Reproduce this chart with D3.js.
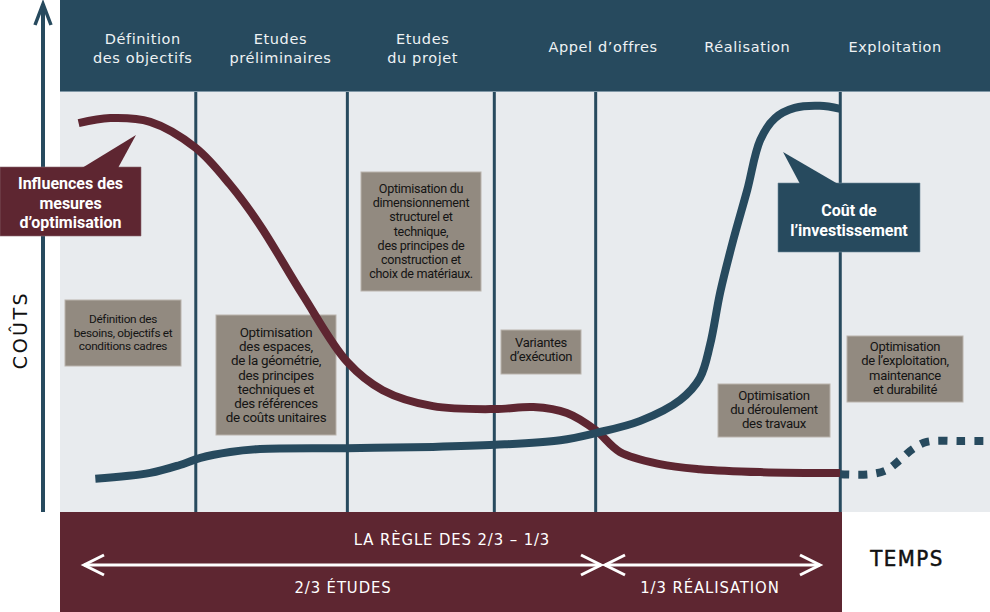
<!DOCTYPE html>
<html><head><meta charset="utf-8">
<script src="https://cdn.jsdelivr.net/npm/d3@7"></script>
<style>html,body{margin:0;padding:0;background:#fff;}svg{display:block;}</style>
</head><body>
<svg id="c" width="990" height="612"></svg>
<script>
// ---------- DATA ----------
// time axis 0..100, cost/influence axis 0..100
const phases = ["Définition\ndes objectifs","Etudes\npréliminaires","Etudes\ndu projet","Appel d’offres","Réalisation","Exploitation"];
const phaseLabelT = [8.9, 23.7, 39.0, 58.4, 73.9, 89.8];
const phaseBounds = [14.6, 30.9, 46.7, 57.6, 83.9];

const influenceT = [2.0,5.4,9.7,14.6,18.3,21.5,26.1,30.9,34.7,40.1,46.8,50.9,54.5,57.6,60.2,64.5,68.8,75.3,83.9];
const influenceV = [92.6,93.8,92.9,86.7,77.9,68.3,51.7,35.7,29.0,25.2,24.5,25.0,23.6,19.5,14.3,11.4,10.2,9.5,9.3];

const costT = [3.8,9.7,12.9,15.1,18.3,21.5,30.9,40.1,46.8,53.8,57.6,62.4,66.7,68.8,69.9,71.0,72.4,73.9,75.3,76.9,79.0,81.7,83.9];
const costV = [7.9,9.3,11.2,12.9,14.3,15.0,15.2,15.5,16.0,17.1,18.8,21.7,26.7,31.9,39.8,52.4,64.8,76.7,88.6,93.8,96.2,96.7,96.0];

const opT = [83.9,87.1,88.9,90.3,91.7,93.2,96.8,100];
const opV = [9.0,9.0,10.0,12.4,15.0,16.7,16.9,16.9];

const notes = [
  {lines:["Définition des","besoins, objectifs et","conditions cadres"], size:11.8},
  {lines:["Optimisation","des espaces,","de la géométrie,","des principes","techniques et","des références","de coûts unitaires"], size:13.4},
  {lines:["Optimisation du","dimensionnement","structurel et","technique,","des principes de","construction et","choix de matériaux."], size:12.6},
  {lines:["Variantes","d’exécution"], size:13},
  {lines:["Optimisation","du déroulement","des travaux"], size:13.2},
  {lines:["Optimisation","de l’exploitation,","maintenance","et durabilité"], size:13}
];
const calloutInfluence = ["Influences des","mesures","d’optimisation"];
const calloutCost = ["Coût de","l’investissement"];
const ruleTitle = "LA RÈGLE DES 2/3 – 1/3";
const ruleParts = ["2/3 ÉTUDES","1/3 RÉALISATION"];
const yTitle = "COÛTS", xTitle = "TEMPS";

// ---------- LAYOUT ----------
const BLUE="#274a5e", MAROON="#5e2631", GREY="#928a80";
const svg = d3.select("#c");
const x = d3.scaleLinear().domain([0,100]).range([60,990]);
const y = d3.scaleLinear().domain([0,100]).range([512,92]);

// header + plot background
svg.append("rect").attr("x",60).attr("y",0).attr("width",930).attr("height",91).attr("fill",BLUE);
svg.append("rect").attr("x",60).attr("y",91).attr("width",930).attr("height",421).attr("fill","#e8ebee");
svg.append("line").attr("x1",60).attr("x2",990).attr("y1",91.5).attr("y2",91.5).attr("stroke","#7f97a6").attr("stroke-width",1);

// header labels
phases.forEach((p,i)=>{
  const ls = p.split("\n");
  const t = svg.append("text").attr("text-anchor","middle").attr("fill","#eef2f4")
    .attr("font-family","DejaVu Sans, sans-serif").attr("font-size",14.5).attr("letter-spacing",0.6);
  const y0 = ls.length===2 ? 44 : 52;
  ls.forEach((l,j)=>t.append("tspan").attr("x",x(phaseLabelT[i])).attr("y",y0+j*19).text(l));
});

// phase separators
svg.selectAll(".sep").data(phaseBounds).join("line")
  .attr("x1",d=>x(d)).attr("x2",d=>x(d)).attr("y1",92).attr("y2",512)
  .attr("stroke",BLUE).attr("stroke-width",3);

// y axis arrow
svg.append("line").attr("x1",43).attr("x2",43).attr("y1",512).attr("y2",4).attr("stroke",BLUE).attr("stroke-width",4);
svg.append("path").attr("d","M35,25 L43,4 L51,25").attr("fill","none").attr("stroke",BLUE).attr("stroke-width",3.5);
svg.append("text").attr("transform","translate(27,330) rotate(-90)").attr("text-anchor","middle")
  .attr("font-family","DejaVu Sans, sans-serif").attr("font-size",19).attr("letter-spacing",2.5).attr("fill","#111").text(yTitle);

// grey note boxes
const noteBoxes = [[65,300,116,66],[216,315,120,120],[361,172,120,119],[501,330,80,44],[718,384,112,53],[847,336,116,66]];
const noteFirst = [323,337,193,347,400,351];
const noteStep = [13.6,14.2,14.2,14.4,14.2,14.4];
notes.forEach((n,i)=>{
  const [bx,by,bw,bh]=noteBoxes[i];
  svg.append("rect").attr("x",bx).attr("y",by).attr("width",bw).attr("height",bh)
    .attr("fill",GREY).attr("stroke","#b9b3ac").attr("stroke-width",1);
  const t = svg.append("text").attr("text-anchor","middle").attr("fill","#141414")
    .attr("font-family","Roboto, sans-serif").attr("font-size",n.size).attr("letter-spacing",-0.3);
  n.lines.forEach((l,j)=>t.append("tspan").attr("x",bx+bw/2).attr("y",noteFirst[i]+j*noteStep[i]).text(l));
});

// curves
const line = d3.line().x(d=>x(d[0])).y(d=>y(d[1])).curve(d3.curveCatmullRom.alpha(0.5));
svg.append("path").attr("d",line(influenceT.map((t,i)=>[t,influenceV[i]])))
  .attr("fill","none").attr("stroke",MAROON).attr("stroke-width",8).attr("stroke-linecap","butt");
svg.append("path").attr("d",line(costT.map((t,i)=>[t,costV[i]])))
  .attr("fill","none").attr("stroke",BLUE).attr("stroke-width",8).attr("stroke-linecap","butt");
svg.append("path").attr("d",line(opT.map((t,i)=>[t,opV[i]])))
  .attr("fill","none").attr("stroke",BLUE).attr("stroke-width",8).attr("stroke-dasharray","9 9");

// callouts
svg.append("path").attr("d","M0,167 L141,167 L141,236 L0,236 Z").attr("fill",MAROON).attr("stroke","#8a6a70").attr("stroke-width",0.6);
svg.append("path").attr("d","M82,168 L136,135 L118,168 Z").attr("fill",MAROON);
const ti = svg.append("text").attr("text-anchor","middle").attr("fill","#fff")
  .attr("font-family","Roboto, sans-serif").attr("font-weight",700).attr("font-size",16);
calloutInfluence.forEach((l,j)=>ti.append("tspan").attr("x",70.5).attr("y",189+j*19.5).text(l));

svg.append("path").attr("d","M778,183 L920,183 L920,252 L778,252 Z").attr("fill",BLUE).attr("stroke","#6f8b9b").attr("stroke-width",0.6);
svg.append("path").attr("d","M800,184 L783,152 L838,184 Z").attr("fill",BLUE);
const tc = svg.append("text").attr("text-anchor","middle").attr("fill","#fff")
  .attr("font-family","Roboto, sans-serif").attr("font-weight",700).attr("font-size",16);
calloutCost.forEach((l,j)=>tc.append("tspan").attr("x",849).attr("y",216+j*19.5).text(l));

// bottom band
svg.append("rect").attr("x",60).attr("y",512).attr("width",782).attr("height",100).attr("fill",MAROON);
const bandFont = "DejaVu Sans Condensed, DejaVu Sans, sans-serif";
svg.append("text").attr("x",452).attr("y",545).attr("text-anchor","middle").attr("fill","#fff")
  .attr("font-family",bandFont).attr("font-size",16.5).attr("letter-spacing",0.9).text(ruleTitle);
const ax = [[84,601],[605,820]];
ax.forEach(([a,b])=>{
  svg.append("line").attr("x1",a).attr("x2",b).attr("y1",565).attr("y2",565).attr("stroke","#fff").attr("stroke-width",3);
  svg.append("path").attr("d",`M${a+20},555 L${a},565 L${a+20},575`).attr("fill","none").attr("stroke","#fff").attr("stroke-width",3);
  svg.append("path").attr("d",`M${b-20},555 L${b},565 L${b-20},575`).attr("fill","none").attr("stroke","#fff").attr("stroke-width",3);
});
svg.append("text").attr("x",343).attr("y",593).attr("text-anchor","middle").attr("fill","#fff")
  .attr("font-family",bandFont).attr("font-size",16.5).attr("letter-spacing",0.9).text(ruleParts[0]);
svg.append("text").attr("x",710).attr("y",593).attr("text-anchor","middle").attr("fill","#fff")
  .attr("font-family",bandFont).attr("font-size",16.5).attr("letter-spacing",0.9).text(ruleParts[1]);
svg.append("text").attr("x",907).attr("y",566).attr("text-anchor","middle").attr("fill","#111")
  .attr("font-family",bandFont).attr("font-size",22).attr("letter-spacing",1.5)
  .attr("stroke","#111").attr("stroke-width",0.5).text(xTitle);
</script>
</body></html>
